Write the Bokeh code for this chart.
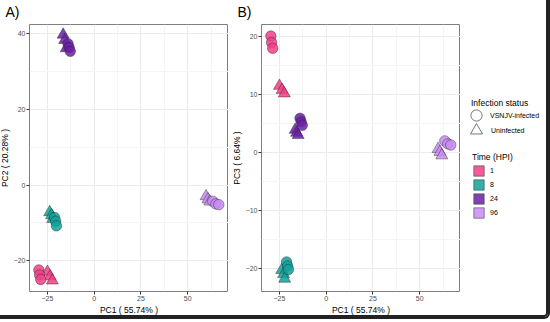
from bokeh.plotting import figure
from bokeh.models import ColumnDataSource, FixedTicker, Legend, LegendItem
from bokeh.layouts import row
from bokeh.embed import file_html
from bokeh.resources import INLINE

time_groups = ["1", "8", "24", "96"]
time_colors = ["#F23E86", "#12A19B", "#6A21A6", "#C88BF2"]
status_labels = ["VSNJV-infected", "Uninfected"]

# Infected samples (circles)
inf_time = ["1", "1", "1", "8", "8", "8", "24", "24", "24", "96", "96", "96"]
inf_pc1 = [-29.6, -29.2, -28.6, -21.2, -20.6, -20.2, -14.0, -13.4, -12.8, 63.4, 65.0, 66.6]
inf_pc2 = [-22.5, -23.8, -25.0, -8.6, -9.6, -10.8, 37.4, 36.4, 35.4, -4.3, -5.0, -5.2]
inf_pc3 = [20.1, 19.0, 18.0, -18.9, -19.6, -20.2, 5.9, 5.3, 4.7, 2.0, 1.5, 1.3]

# Uninfected samples (triangles)
unf_time = ["1", "1", "1", "8", "8", "8", "24", "24", "24", "96", "96", "96"]
unf_pc1 = [-25.0, -23.6, -22.4, -23.8, -22.8, -22.2, -16.6, -15.8, -15.0, 59.8, 60.8, 61.8]
unf_pc2 = [-23.0, -24.2, -25.3, -7.2, -8.0, -9.0, 39.8, 38.4, 36.2, -3.0, -3.8, -4.4]
unf_pc3 = [11.5, 10.8, 10.2, -20.3, -21.0, -21.8, 3.9, 3.4, 3.0, 0.6, 0.1, -0.5]

x_ticks = [-25, 0, 25, 50]
x_minor = [-37.5, -12.5, 12.5, 37.5, 62.5]
a_y_ticks = [-20, 0, 20, 40]
a_y_minor = [-30, -10, 10, 30]
b_y_ticks = [-20, -10, 0, 10, 20]
b_y_minor = [-25, -15, -5, 5, 15]

FONT = "Liberation Sans"
cmap = dict(zip(time_groups, time_colors))
FW, FH, TOP, BOT = 199, 267, 21, 22


def make_src(t, x, y):
    return ColumnDataSource(dict(x=x, y=y, c=[cmap[v] for v in t]))


def style(p, yt, ym, ylabel, title):
    p.xaxis.ticker = FixedTicker(ticks=x_ticks, minor_ticks=x_minor)
    p.yaxis.ticker = FixedTicker(ticks=yt, minor_ticks=ym)
    for ax in (p.xaxis[0], p.yaxis[0]):
        ax.axis_line_color = None
        ax.major_tick_out = 3
        ax.major_tick_in = 0
        ax.minor_tick_out = 0
        ax.minor_tick_in = 0
        ax.major_tick_line_color = "#333333"
        ax.major_label_text_font = FONT
        ax.major_label_text_font_size = "7px"
        ax.major_label_text_color = "#4D4D4D"
        ax.major_label_standoff = 1
        ax.axis_label_text_font = FONT
        ax.axis_label_text_font_size = "8.5px"
        ax.axis_label_text_font_style = "normal"
        ax.axis_label_text_color = "#000000"
        ax.axis_label_standoff = 1
    p.xaxis.axis_label = "PC1 ( 55.74% )"
    p.yaxis.axis_label = ylabel
    for g in (p.xgrid[0], p.ygrid[0]):
        g.grid_line_color = "#EBEBEB"
        g.grid_line_width = 1
        g.minor_grid_line_color = "#F5F5F5"
        g.minor_grid_line_width = 1
    p.outline_line_color = "#7F7F7F"
    p.outline_line_width = 1
    p.border_fill_color = None
    p.title.text = title
    p.title.text_font = FONT
    p.title.text_font_size = "14px"
    p.title.text_font_style = "normal"
    p.title.text_color = "#000000"
    p.title.standoff = 10
    p.title.offset = -24


def panel(yvals_inf, yvals_unf, yr, yt, ym, ylabel, title, right):
    p = figure(frame_width=FW, frame_height=FH, x_range=(-34.6, 71.8), y_range=yr,
               output_backend="svg", toolbar_location=None,
               min_border_left=0, min_border_right=right, min_border_top=TOP, min_border_bottom=BOT)
    style(p, yt, ym, ylabel, title)
    p.scatter("x", "y", source=make_src(unf_time, unf_pc1, yvals_unf), marker="triangle", size=12,
              fill_color="c", fill_alpha=0.85, line_color="#222222", line_alpha=0.7, line_width=0.6)
    p.scatter("x", "y", source=make_src(inf_time, inf_pc1, yvals_inf), marker="circle", size=10.5,
              fill_color="c", fill_alpha=0.85, line_color="#222222", line_alpha=0.7, line_width=0.6)
    return p


pa = panel(inf_pc2, unf_pc2, (-28.2, 42.5), a_y_ticks, a_y_minor, "PC2 ( 20.28% )", "A)", 0)
pb = panel(inf_pc3, unf_pc3, (-24.0, 22.1), b_y_ticks, b_y_minor, "PC3 ( 6.64% )", "B)", 0)

# Legend panel
pc = figure(frame_width=88, frame_height=FH, x_range=(0, 1), y_range=(0, 1),
            output_backend="svg", toolbar_location=None,
            min_border_left=0, min_border_right=0, min_border_top=TOP, min_border_bottom=BOT)
pc.axis.visible = False
pc.grid.visible = False
pc.outline_line_color = None
pc.border_fill_color = None
pc.background_fill_color = None
pc.title.text = " "
pc.title.text_font_size = "14px"
pc.title.standoff = 10

nan = float("nan")
key_src = ColumnDataSource(dict(x=[nan], y=[nan]))
r_none = pc.scatter("x", "y", source=key_src, marker="circle", fill_alpha=0, line_alpha=0)
r_c = pc.scatter("x", "y", source=key_src, marker="circle", fill_color="white", line_color="#555555", line_width=0.8)
r_t = pc.scatter("x", "y", source=key_src, marker="triangle", fill_color="white", line_color="#555555", line_width=0.8)
time_rs = []
for col in time_colors:
    time_rs.append(pc.rect("x", "y", width=1, height=1, source=key_src, fill_color=col,
                           fill_alpha=0.85, line_color="#444444", line_width=0.6))


def mk_legend(title, items, loc, gw, gh, spacing, tstand, lstand):
    lg = Legend(items=items, location=loc, title=title)
    lg.title_text_font = FONT
    lg.title_text_font_size = "8.5px"
    lg.title_text_font_style = "normal"
    lg.title_text_color = "#000000"
    lg.title_standoff = tstand
    lg.label_text_font = FONT
    lg.label_text_font_size = "7px"
    lg.label_text_color = "#000000"
    lg.label_standoff = lstand
    lg.glyph_width = gw
    lg.glyph_height = gh
    lg.spacing = spacing
    lg.padding = 0
    lg.margin = 0
    lg.border_line_color = None
    lg.background_fill_alpha = 0
    return lg


lg_title = mk_legend("Infection status", [LegendItem(label=" ", renderers=[r_none])],
                     (11, 182), 1, 1, 0, 0, 0)
lg_circ = mk_legend(None, [LegendItem(label=status_labels[0], renderers=[r_c])],
                    (2, 162), 28, 28, 0, 0, -1)
lg_tri = mk_legend(None, [LegendItem(label=status_labels[1], renderers=[r_t])],
                   (1, 146), 30, 30, 0, 0, -2)
lg_time = mk_legend("Time (HPI)",
                    [LegendItem(label=t, renderers=[r]) for t, r in zip(time_groups, time_rs)], (12, 72),
                    13, 13, 1, 2, 5)
for lg in (lg_title, lg_circ, lg_tri, lg_time):
    pc.add_layout(lg, "center")

layout = row(pa, pb, pc, styles={"box-shadow": "0 0 0 2px #222222, inset 0 0 0 2px #222222",
                                 "border-radius": "4px",
                                 "margin-left": "-4px", "margin-top": "-4px"})
open("out.html", "w").write(file_html(layout, INLINE))
